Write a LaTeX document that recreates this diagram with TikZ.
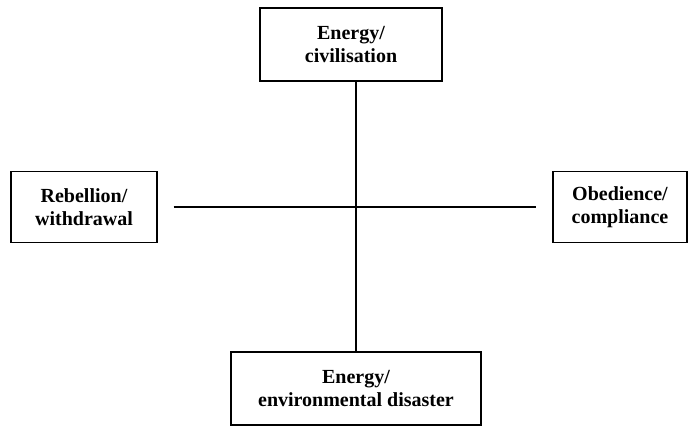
\documentclass[tikz,border=0pt]{standalone}
\usepackage{fontspec}
\setmainfont{Liberation Serif}
\begin{document}
\begin{tikzpicture}[
        x=1pt, y=-1pt,
        box/.style={draw, line width=1.3pt, align=center, inner sep=0pt,
            font=\bfseries\fontsize{20}{23}\selectfont},
        axis/.style={line width=1.3pt}
    ]
        \useasboundingbox (0,0) rectangle (689,426);
        % four poles round the two axes
        \node[box, minimum width=182pt, minimum height=73pt] (civil) at (351,44.5) {Energy/\\civilisation};
        \node[box, minimum width=146pt, minimum height=71pt] (rebel) at (84,207) {Rebellion/\\withdrawal};
        \node[box, minimum width=134pt, minimum height=71pt] (obey) at (620,207) {Obedience/\\compliance};
        \node[box, minimum width=250pt, minimum height=73pt] (disaster) at (356,388.5) {Energy/\\environmental disaster};
        \draw[axis] (civil.south -| disaster.north) -- (disaster.north);
        \draw[axis] ([xshift=16pt]rebel.east) -- ([xshift=-16pt]obey.west);
    \end{tikzpicture}
\end{document}
